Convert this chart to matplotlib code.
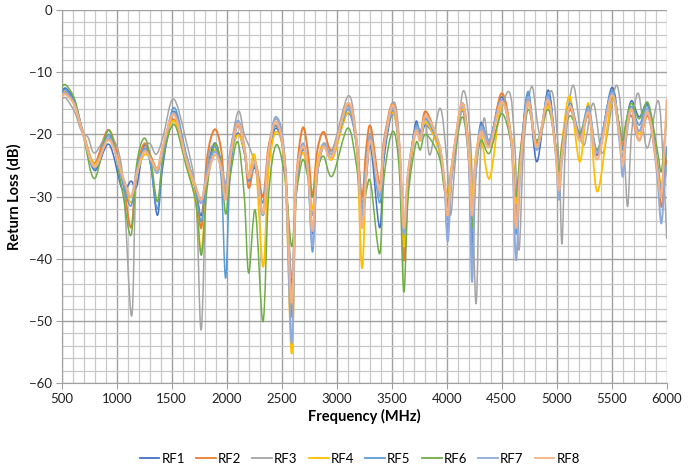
import numpy as np
import matplotlib
matplotlib.use("Agg")
import matplotlib.pyplot as plt
from matplotlib.path import Path
from matplotlib.patches import PathPatch
from matplotlib.lines import Line2D

plt.rcParams['font.family'] = ['Lato', 'DejaVu Sans']

# Frequências (MHz) dos pontos lidos - comum a RF1, RF2, RF4..RF8
freq = [500, 540, 620, 700, 800, 930, 1050, 1130, 1180, 1250,
        1310, 1370, 1420, 1520, 1630, 1720, 1770, 1820, 1890, 1950,
        1990, 2030, 2100, 2160, 2200, 2260, 2330, 2380, 2450, 2530,
        2590, 2630, 2690, 2740, 2780, 2820, 2880, 2960, 3100, 3180,
        3230, 3270, 3310, 3390, 3430, 3510, 3570, 3610, 3650, 3720,
        3760, 3810, 3930, 3980, 4010, 4050, 4140, 4200, 4230, 4260,
        4310, 4390, 4500, 4590, 4630, 4670, 4740, 4820, 4920, 4990,
        5020, 5050, 5120, 5210, 5290, 5370, 5500, 5570, 5600, 5630,
        5680, 5750, 5830, 5910, 5950, 5980, 6000]

rf1 = [-13.2, -12.6, -14.8, -20.2, -25.8, -21.6, -28.8, -27.5, -28.5, -21.8,
       -25.0, -33.0, -25.0, -16.3, -23.5, -29.0, -33.0, -26.0, -21.4, -24.5,
       -29.0, -24.0, -19.8, -23.0, -27.5, -25.5, -33.0, -24.0, -19.0, -25.0,
       -44.0, -29.0, -22.5, -26.0, -36.0, -27.0, -22.0, -23.5, -16.6, -22.0,
       -34.3, -27.0, -22.0, -35.0, -24.0, -16.5, -23.0, -37.0, -27.0, -18.0,
       -21.0, -18.5, -22.0, -28.0, -32.0, -26.0, -16.2, -24.0, -37.4, -27.0,
       -18.2, -21.0, -14.0, -22.0, -34.0, -24.0, -13.5, -24.4, -12.9, -22.0,
       -28.0, -22.0, -15.8, -20.0, -17.0, -23.3, -12.5, -19.5, -24.0, -18.5,
       -14.6, -17.2, -15.3, -24.0, -30.0, -27.0, -24.0]

rf2 = [-13.6, -13.2, -15.2, -20.0, -24.6, -19.3, -27.0, -35.0, -26.0, -21.5,
       -23.5, -25.5, -22.0, -17.6, -24.0, -29.0, -35.0, -24.0, -19.2, -22.5,
       -30.0, -24.0, -18.6, -22.0, -28.6, -24.5, -30.0, -22.0, -18.6, -25.0,
       -49.3, -28.0, -19.0, -23.0, -30.0, -23.0, -19.6, -22.5, -15.2, -21.0,
       -30.0, -22.0, -18.8, -28.0, -21.0, -15.0, -22.0, -40.2, -28.0, -19.0,
       -20.5, -16.3, -22.0, -28.0, -30.0, -24.5, -15.0, -22.0, -33.0, -25.0,
       -19.5, -21.5, -13.4, -21.0, -33.0, -23.0, -14.8, -21.5, -15.0, -22.0,
       -28.0, -22.5, -16.0, -20.5, -17.0, -23.0, -14.0, -19.0, -22.0, -19.0,
       -17.0, -21.0, -17.0, -25.0, -31.6, -28.0, -24.0]

rf4 = [-13.6, -13.3, -15.3, -20.0, -24.8, -20.8, -26.5, -31.0, -26.5, -23.3,
       -24.0, -25.8, -22.5, -17.8, -24.5, -31.0, -38.9, -27.0, -22.5, -25.0,
       -28.0, -24.0, -20.1, -22.5, -26.5, -23.8, -41.3, -26.0, -19.6, -26.0,
       -55.2, -30.0, -23.0, -26.5, -32.0, -25.0, -21.5, -24.0, -16.5, -22.0,
       -41.5, -26.0, -21.0, -30.0, -22.0, -16.5, -23.0, -38.0, -27.0, -19.5,
       -20.5, -18.0, -22.5, -28.0, -30.0, -25.0, -16.0, -22.0, -30.0, -24.0,
       -20.0, -27.1, -15.0, -21.0, -31.0, -24.0, -15.0, -22.0, -15.5, -22.5,
       -27.0, -21.0, -13.9, -24.4, -15.0, -29.2, -14.5, -19.5, -22.5, -19.0,
       -16.0, -20.0, -16.5, -24.0, -28.0, -25.0, -22.0]

rf5 = [-13.2, -12.9, -15.0, -20.0, -25.5, -20.0, -27.5, -31.5, -26.0, -22.3,
       -25.0, -32.0, -24.0, -15.7, -23.0, -29.0, -34.0, -27.0, -22.0, -27.0,
       -43.1, -27.0, -18.0, -22.0, -27.5, -25.0, -31.0, -23.0, -18.6, -25.0,
       -45.0, -30.0, -22.0, -27.0, -38.9, -27.0, -22.0, -23.5, -16.0, -21.5,
       -32.0, -25.0, -21.5, -31.0, -23.0, -16.0, -22.5, -36.0, -27.0, -18.7,
       -19.8, -17.5, -22.0, -28.5, -36.0, -26.0, -15.6, -23.0, -40.0, -27.0,
       -18.6, -20.8, -14.5, -22.0, -36.0, -24.0, -13.1, -22.5, -13.5, -22.0,
       -29.0, -22.0, -15.0, -19.8, -15.5, -22.5, -13.0, -19.0, -22.5, -18.5,
       -15.5, -18.5, -15.5, -24.0, -29.0, -26.0, -22.0]

rf6 = [-12.4, -12.1, -14.5, -20.5, -27.1, -19.3, -29.0, -36.2, -25.0, -20.6,
       -24.0, -30.8, -24.0, -18.4, -25.0, -31.0, -39.4, -29.0, -21.6, -25.0,
       -32.8, -27.0, -21.2, -30.0, -42.3, -32.2, -50.1, -30.0, -21.7, -27.0,
       -38.0, -30.0, -24.1, -27.0, -30.0, -26.0, -23.5, -26.7, -19.0, -25.0,
       -33.0, -29.0, -27.9, -39.2, -27.0, -19.5, -26.0, -45.3, -30.0, -21.5,
       -22.5, -20.0, -23.5, -29.0, -30.5, -26.0, -17.2, -24.0, -35.0, -27.0,
       -21.0, -23.0, -16.7, -22.0, -30.0, -23.0, -16.0, -21.0, -16.0, -21.5,
       -26.0, -21.5, -17.0, -19.8, -16.5, -22.5, -14.2, -18.5, -21.0, -18.0,
       -15.0, -17.5, -14.9, -22.0, -26.0, -21.0, -17.5]

rf7 = [-13.6, -13.4, -15.3, -20.2, -25.2, -20.6, -27.0, -30.0, -26.0, -22.6,
       -24.0, -26.2, -22.5, -16.5, -23.5, -28.5, -31.0, -26.0, -22.8, -25.0,
       -28.0, -23.0, -17.8, -22.0, -27.0, -24.5, -33.0, -23.0, -17.2, -24.5,
       -53.5, -29.0, -21.5, -26.0, -38.0, -27.0, -21.5, -23.0, -15.6, -21.5,
       -33.0, -25.0, -20.5, -30.0, -22.0, -15.8, -22.5, -36.0, -26.0, -19.0,
       -20.5, -17.2, -21.5, -28.0, -37.2, -26.0, -15.5, -24.0, -43.7, -28.0,
       -19.0, -21.0, -14.5, -22.0, -40.2, -26.0, -14.0, -22.5, -14.0, -23.0,
       -30.5, -24.0, -15.5, -21.0, -16.0, -23.0, -13.3, -21.0, -26.8, -21.0,
       -16.0, -19.5, -16.0, -26.0, -34.3, -28.0, -25.0]

rf8 = [-13.9, -13.6, -15.5, -20.3, -25.2, -20.9, -26.5, -30.0, -26.5, -22.8,
       -24.0, -25.6, -22.0, -16.8, -24.0, -28.5, -30.5, -27.0, -23.3, -25.5,
       -30.5, -24.0, -18.3, -22.0, -27.0, -24.5, -32.7, -23.0, -18.0, -25.0,
       -47.0, -28.0, -22.0, -26.0, -35.5, -26.0, -22.0, -23.5, -15.0, -21.0,
       -35.0, -26.0, -21.0, -29.0, -22.0, -15.3, -22.0, -35.0, -26.0, -19.5,
       -21.0, -17.0, -21.5, -27.5, -33.0, -25.0, -15.0, -23.0, -33.0, -25.0,
       -19.6, -22.0, -14.8, -21.5, -35.0, -25.0, -14.8, -22.0, -14.5, -22.5,
       -29.0, -23.0, -15.5, -21.0, -16.5, -24.0, -13.8, -20.0, -25.0, -20.0,
       -16.0, -20.9, -16.5, -25.0, -30.0, -22.0, -14.5]

# RF3 tem os picos deslocados, então tem frequências próprias
freq_rf3 = [500, 540, 620, 680, 740, 800, 930, 1050, 1135, 1180,
            1285, 1358, 1420, 1515, 1630, 1720, 1768, 1820, 1890, 1950,
            1990, 2030, 2105, 2160, 2210, 2260, 2330, 2380, 2450, 2530,
            2590, 2630, 2690, 2740, 2780, 2820, 2880, 2960, 3106, 3180,
            3230, 3270, 3310, 3390, 3430, 3520, 3570, 3610, 3650, 3720,
            3770, 3810, 3848, 3940, 4000, 4035, 4080, 4151, 4220, 4266,
            4300, 4340, 4400, 4560, 4620, 4657, 4700, 4773, 4850, 4954,
            5020, 5048, 5080, 5150, 5242, 5333, 5420, 5543, 5610, 5645,
            5680, 5742, 5822, 5923, 5970, 6000]

rf3 = [-14.3, -14.2, -16.5, -19.5, -20.5, -23.0, -20.3, -26.0, -49.2, -27.0,
       -21.5, -23.2, -20.5, -14.3, -21.0, -30.0, -51.4, -26.0, -21.8, -25.0,
       -29.0, -23.0, -16.3, -20.0, -22.2, -25.0, -31.0, -23.0, -17.5, -24.0,
       -43.0, -29.0, -22.0, -26.0, -33.0, -26.0, -21.5, -22.5, -13.8, -20.5,
       -31.0, -24.0, -20.0, -29.0, -21.0, -14.8, -21.0, -36.0, -26.0, -19.0,
       -19.5, -18.0, -23.3, -15.8, -24.0, -33.0, -24.0, -13.0, -22.0, -47.2,
       -26.0, -17.4, -22.0, -13.1, -22.0, -38.6, -22.0, -12.3, -20.0, -13.0,
       -24.0, -37.6, -22.0, -12.1, -21.8, -15.0, -23.0, -12.1, -22.0, -31.6,
       -20.0, -13.4, -22.2, -14.6, -25.0, -36.7]

series = [
    ('RF1', freq, rf1, '#4472C4', 1.1),
    ('RF2', freq, rf2, '#ED7D31', 1.4),
    ('RF3', freq_rf3, rf3, '#A5A5A5', 1.1),
    ('RF4', freq, rf4, '#FFC000', 1.3),
    ('RF5', freq, rf5, '#5B9BD5', 1.1),
    ('RF6', freq, rf6, '#70AD47', 1.1),
    ('RF7', freq, rf7, '#8FAADC', 1.4),
    ('RF8', freq, rf8, '#F4B183', 1.6),
]


def curva_suave(x, y):
    # linha suavizada estilo Excel (Catmull-Rom -> Bezier cubica)
    x = np.asarray(x, float)
    y = np.asarray(y, float)
    pts = np.column_stack([x, y])
    verts = [pts[0]]
    codes = [Path.MOVETO]
    n = len(pts)
    for i in range(n - 1):
        p0 = pts[i - 1] if i > 0 else pts[i]
        p1 = pts[i]
        p2 = pts[i + 1]
        p3 = pts[i + 2] if i + 2 < n else pts[i + 1]
        c1 = p1 + (p2 - p0) / 6.0
        c2 = p2 - (p3 - p1) / 6.0
        verts += [c1, c2, p2]
        codes += [Path.CURVE4] * 3
    return Path(verts, codes)


fig = plt.figure(figsize=(6.97, 4.72), dpi=100)
ax = fig.add_axes([0.0885, 0.188, 0.868, 0.791])

handles = []
for nome, fx, fy, cor, lw in series:
    patch = PathPatch(curva_suave(fx, fy), facecolor='none', edgecolor=cor,
                      lw=lw, transform=ax.transData, zorder=3,
                      joinstyle='round', capstyle='round')
    ax.add_patch(patch)
    handles.append(Line2D([], [], color=cor, lw=1.3, label=nome))

ax.set_xlim(500, 6000)
ax.set_ylim(-60, 0)
ax.set_xticks(np.arange(500, 6001, 500))
ax.set_yticks(np.arange(-60, 1, 10))
ax.set_xticks(np.arange(500, 6001, 100), minor=True)
ax.set_yticks(np.arange(-60, 1, 2), minor=True)

ax.grid(which='major', color='#A0A0A0', lw=1.0, zorder=1)
ax.grid(which='minor', color='#C8C8C8', lw=0.9, zorder=0)
ax.tick_params(which='minor', length=0)
ax.tick_params(which='major', length=4, color='#A0A0A0', labelsize=9.5,
               labelcolor='#222222', pad=3)
for s in ['top', 'right']:
    ax.spines[s].set_visible(False)
for s in ['left', 'bottom']:
    ax.spines[s].set_color('#A0A0A0')

ax.set_xlabel('Frequency (MHz)', fontsize=10.5, fontweight='bold', labelpad=3)
ax.set_ylabel('Return Loss (dB)', fontsize=10.5, fontweight='bold', labelpad=5)

fig.legend(handles=handles, loc='center', bbox_to_anchor=(0.516, 0.028),
           ncol=8, frameon=False, fontsize=9.5, handlelength=1.5,
           handletextpad=0.15, columnspacing=0.85)

fig.savefig('out.png', dpi=100)
